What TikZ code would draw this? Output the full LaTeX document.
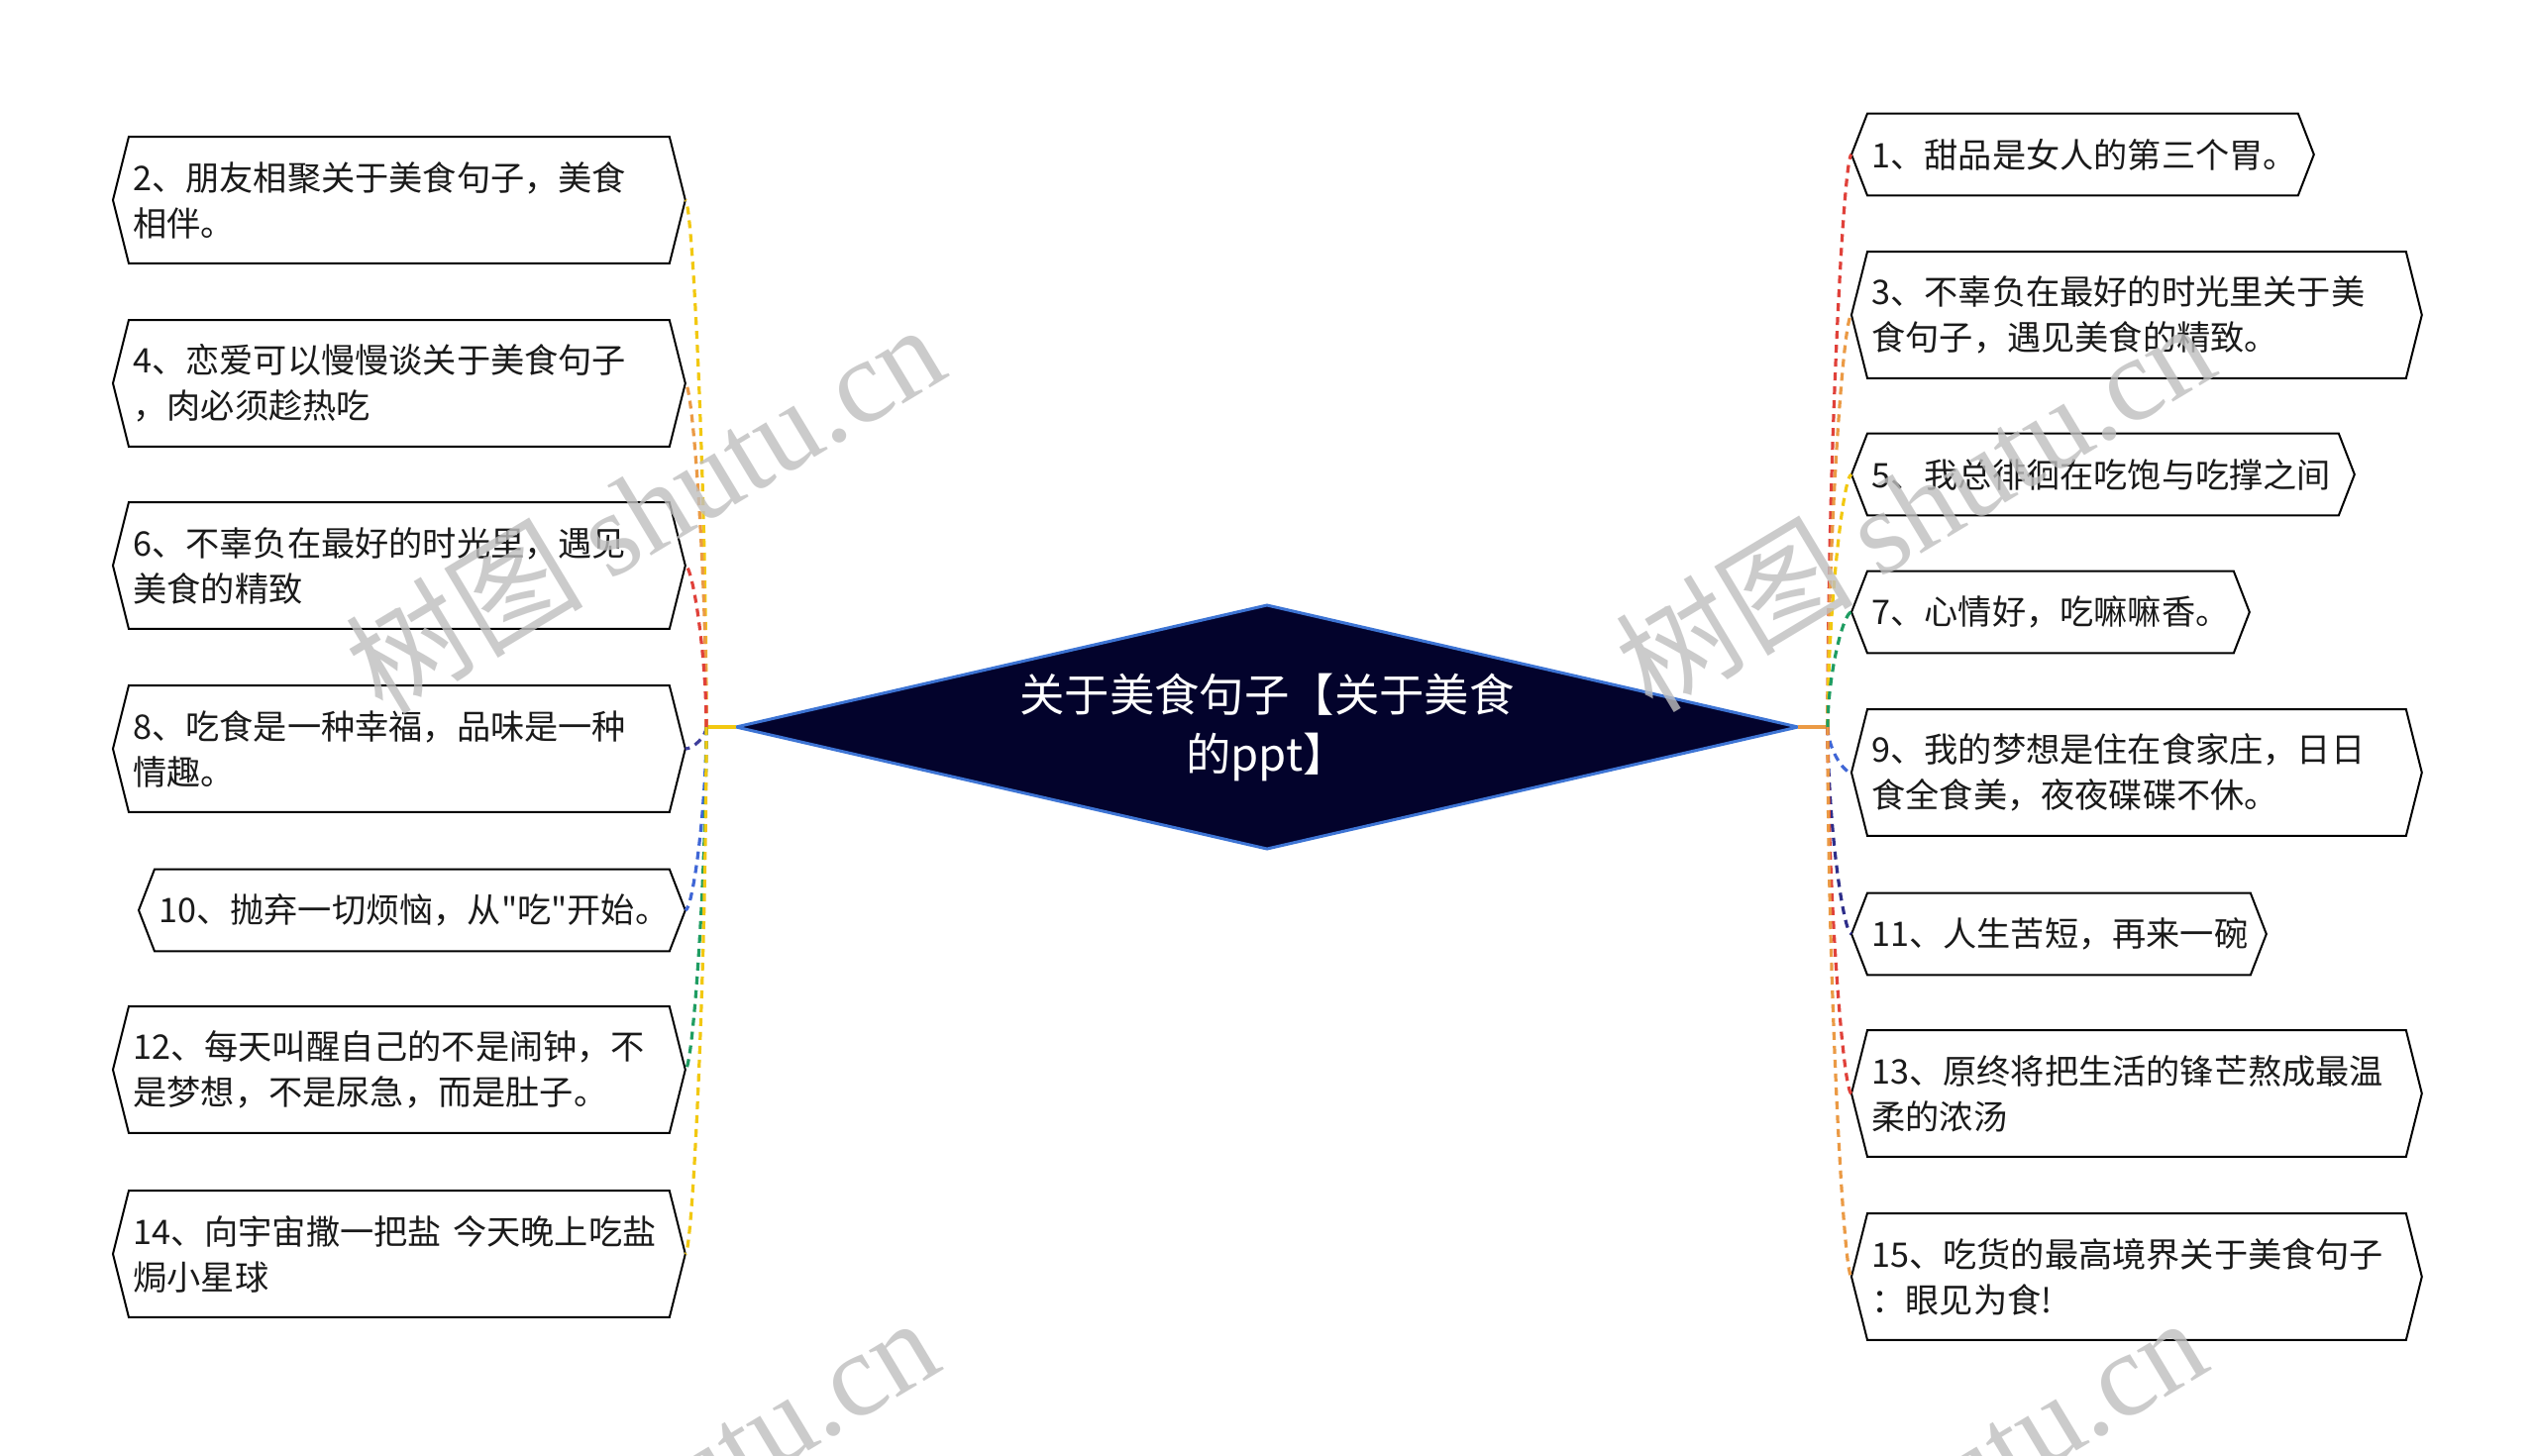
\documentclass[tikz,border=0pt]{standalone}
\usepackage{fontspec}
\setmainfont{Noto Sans CJK SC}
\newfontfamily\plainq{Noto Sans CJK SC}
\newfontfamily\wmserif{Liberation Serif}
\usetikzlibrary{calc}
\definecolor{cyellow}{HTML}{F2C811}
\definecolor{corange}{HTML}{EB9A45}
\definecolor{cred}{HTML}{E0413A}
\definecolor{cindigo}{HTML}{3E3E9C}
\definecolor{cblue}{HTML}{3F66D6}
\definecolor{cgreen}{HTML}{1F9D62}
\definecolor{cnavy}{HTML}{2E2E8A}
\definecolor{dfill}{HTML}{03032C}
\definecolor{dline}{HTML}{3D74D4}
\definecolor{txt}{HTML}{1A1A1A}
\newcommand\hexit[1]{\draw[hexline] ([xshift=8pt]#1.north west) -- ([xshift=-8pt]#1.north east) -- (#1.east) -- ([xshift=-8pt]#1.south east) -- ([xshift=8pt]#1.south west) -- (#1.west) -- cycle;}
\newcommand\linkit[4]{\draw[conn,#3] (#1) .. controls ($(#1)!0.45!(#1|-#2.#4)$) and ($(#2.#4)!0.35!(#1|-#2.#4)$) .. (#2.#4);}
\begin{document}
\begin{tikzpicture}[x=0.5pt,y=-0.5pt,
  leaf/.style={anchor=west, inner xsep=10pt, inner ysep=0pt, align=left, text=txt,
    font=\fontsize{17.1}{23}\selectfont},
  two/.style={minimum height=63.5pt},
  one/.style={minimum height=41pt},
  hexline/.style={draw=black, line width=1pt, line join=miter},
  conn/.style={line width=1.6pt, dash pattern=on 4pt off 3pt},
  wm/.style={text=black!25, opacity=0.8, font=\fontsize{60}{66}\selectfont, rotate=31}
]
\useasboundingbox (0,0) rectangle (2560,1469);
\clip (0,0) rectangle (2560,1469);
\fill[white] (0,0) rectangle (2560,1469);

% central diamond
\draw[fill=dfill, draw=dline, line width=1.5pt] (743,734) -- (1279,611) -- (1815,734) -- (1279,857) -- cycle;
\node[text=white, align=center, font=\fontsize{22.7}{30}\selectfont] (c) at (1279,734) {关于美食句子【关于美食\\的ppt】};
\coordinate (ltip) at (743,734);
\coordinate (rtip) at (1815,734);
\coordinate (JL) at (713,734);
\coordinate (JR) at (1845,734);

% left nodes
\node[leaf,two,text width=268.5pt] (L2) at (114,202) {2、朋友相聚关于美食句子，美食\\相伴。};
\node[leaf,two,text width=268.5pt] (L4) at (114,387) {4、恋爱可以慢慢谈关于美食句子\\，肉必须趁热吃};
\node[leaf,two,text width=268.5pt] (L6) at (114,571) {6、不辜负在最好的时光里，遇见\\美食的精致};
\node[leaf,two,text width=268.5pt] (L8) at (114,756) {8、吃食是一种幸福，品味是一种\\情趣。};
\node[leaf,one,text width=255.5pt] (L10) at (140,919) {10、抛弃一切烦恼，从{\plainq "}吃{\plainq "}开始。};
\node[leaf,two,text width=268.5pt] (L12) at (114,1080) {12、每天叫醒自己的不是闹钟，不\\是梦想，不是尿急，而是肚子。};
\node[leaf,two,text width=268.5pt] (L14) at (114,1266) {14、向宇宙撒一把盐 今天晚上吃盐\\焗小星球};
\foreach \n in {L2,L4,L6,L8,L10,L12,L14}{\hexit{\n}}

% right nodes
\node[leaf,one,text width=213pt] (R1) at (1869,156) {1、甜品是女人的第三个胃。};
\node[leaf,two,text width=267.5pt] (R3) at (1869,318) {3、不辜负在最好的时光里关于美\\食句子，遇见美食的精致。};
\node[leaf,one,text width=233.5pt] (R5) at (1869,479) {5、我总徘徊在吃饱与吃撑之间};
\node[leaf,one,text width=180.5pt] (R7) at (1869,618) {7、心情好，吃嘛嘛香。};
\node[leaf,two,text width=267.5pt] (R9) at (1869,780) {9、我的梦想是住在食家庄，日日\\食全食美，夜夜碟碟不休。};
\node[leaf,one,text width=189pt] (R11) at (1869,943) {11、人生苦短，再来一碗};
\node[leaf,two,text width=267.5pt] (R13) at (1869,1104) {13、原终将把生活的锋芒熬成最温\\柔的浓汤};
\node[leaf,two,text width=267.5pt] (R15) at (1869,1289) {15、吃货的最高境界关于美食句子\\：眼见为食!};
\foreach \n in {R1,R3,R5,R7,R9,R11,R13,R15}{\hexit{\n}}

% connectors
\draw[line width=1.6pt, cyellow] (ltip) -- (JL);
\draw[line width=1.6pt, corange] (rtip) -- (JR);
\linkit{JL}{L2}{cyellow}{east}
\linkit{JL}{L4}{corange}{east}
\linkit{JL}{L6}{cred}{east}
\linkit{JL}{L8}{cindigo}{east}
\linkit{JL}{L10}{cblue}{east}
\linkit{JL}{L12}{cgreen}{east}
\linkit{JL}{L14}{cyellow}{east}
\linkit{JR}{R1}{cred}{west}
\linkit{JR}{R3}{corange}{west}
\linkit{JR}{R5}{cyellow}{west}
\linkit{JR}{R7}{cgreen}{west}
\linkit{JR}{R9}{cblue}{west}
\linkit{JR}{R11}{cnavy}{west}
\linkit{JR}{R13}{cred}{west}
\linkit{JR}{R15}{corange}{west}

% watermarks
\node[wm] (w1) at (650,512) {树图 {\wmserif shutu.cn}};
\node[wm] (w2) at (1932,510) {树图 {\wmserif shutu.cn}};
\node[wm] (w3) at (644,1515) {树图 {\wmserif shutu.cn}};
\node[wm] (w4) at (1924,1515) {树图 {\wmserif shutu.cn}};
\end{tikzpicture}
\end{document}
